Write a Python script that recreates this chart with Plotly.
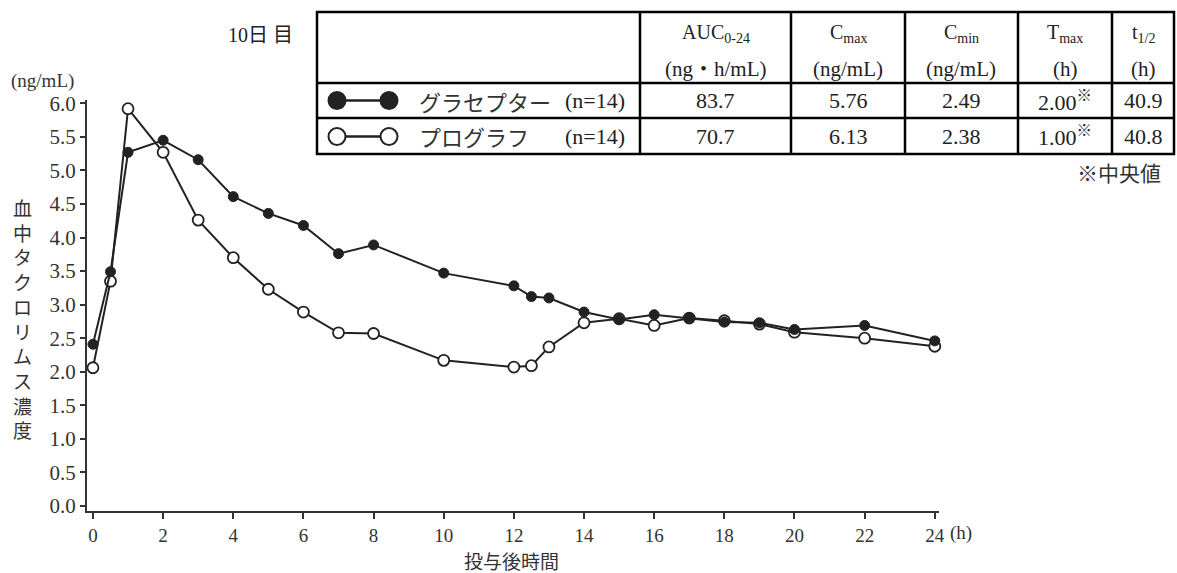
import plotly.graph_objects as go

# ---------------- data ----------------
hours = [0, 0.5, 1, 2, 3, 4, 5, 6, 7, 8, 10, 12, 12.5, 13, 14, 15, 16, 17, 18, 19, 20, 22, 24]
graceptor = [2.41, 3.49, 5.27, 5.45, 5.16, 4.61, 4.36, 4.18, 3.76, 3.89, 3.47, 3.28, 3.12, 3.10,
             2.89, 2.78, 2.85, 2.80, 2.74, 2.73, 2.63, 2.69, 2.46]
prograf = [2.06, 3.35, 5.92, 5.27, 4.26, 3.70, 3.23, 2.89, 2.58, 2.57, 2.17, 2.07, 2.09, 2.37,
           2.73, 2.79, 2.69, 2.80, 2.76, 2.71, 2.59, 2.50, 2.38]

x_ticks = list(range(0, 25, 2))
y_ticks = [i * 0.5 for i in range(13)]

table_header1 = ["AUC<sub>0-24</sub>", "C<sub>max</sub>", "C<sub>min</sub>", "T<sub>max</sub>", "t<sub>1/2</sub>"]
table_header2 = ["(ng・h/mL)", "(ng/mL)", "(ng/mL)", "(h)", "(h)"]
series_names = ["グラセプター", "プログラフ"]
series_n = ["(n=14)", "(n=14)"]
row_graceptor = ["83.7", "5.76", "2.49", "2.00<sup>※</sup>", "40.9"]
row_prograf = ["70.7", "6.13", "2.38", "1.00<sup>※</sup>", "40.8"]

# ---------------- layout geometry (pixels) ----------------
W, H = 1177, 573
L, R, T, B = 87, 939, 100, 511  # plot area in pixels

def px(x):
    return (x - L) / (R - L)

def py(y):
    return (B - y) / (B - T)

SERIF = "Liberation Serif, Noto Sans CJK JP, serif"
JP = "Noto Sans CJK JP, sans-serif"
INK = "#222"

fig = go.Figure()

fig.add_trace(go.Scatter(
    x=hours, y=prograf, mode="lines+markers", name="プログラフ",
    line=dict(color=INK, width=2),
    marker=dict(symbol="circle", size=11, color="white", line=dict(color=INK, width=1.8)),
    cliponaxis=False,
))
fig.add_trace(go.Scatter(
    x=hours, y=graceptor, mode="lines+markers", name="グラセプター",
    line=dict(color=INK, width=2),
    marker=dict(symbol="circle", size=10, color=INK, line=dict(color=INK, width=1)),
    cliponaxis=False,
))

fig.update_layout(
    width=W, height=H,
    margin=dict(l=L, r=W - R, t=T, b=H - B, pad=0),
    plot_bgcolor="white", paper_bgcolor="white",
    showlegend=False,
    font=dict(family=SERIF, color="#333"),
    xaxis=dict(range=[-0.17, 24.12], tickvals=x_ticks, ticktext=[str(v) for v in x_ticks],
               ticks="outside", ticklen=6, tickwidth=1.5, tickcolor="#333",
               showline=True, linewidth=2, linecolor="#333", showgrid=False, zeroline=False,
               tickfont=dict(family=SERIF, size=19, color="#333")),
    yaxis=dict(range=[-0.075, 6.05], tickvals=y_ticks, ticktext=[f"{v:.1f}" for v in y_ticks],
               ticks="outside", ticklen=5, tickwidth=1.5, tickcolor="#333",
               showline=True, linewidth=2, linecolor="#333", showgrid=False, zeroline=False,
               tickfont=dict(family=SERIF, size=21, color="#333")),
)

ann = []
def text(x, y, s, size=18, xanchor="center", family=SERIF, color="#222"):
    ann.append(dict(x=px(x), y=py(y), xref="paper", yref="paper", text=s, showarrow=False,
                    xanchor=xanchor, yanchor="middle", font=dict(family=family, size=size, color=color)))

# axis labels
text(9, 81, "(ng/mL)", size=19, xanchor="left", color="#333")
ann.append(dict(x=px(22), y=py(318), xref="paper", yref="paper",
                text="<br>".join(list("血中タクロリムス濃度")), showarrow=False,
                xanchor="center", yanchor="middle", align="center",
                font=dict(family=JP, size=19, color="#333")))
text(948, 533, "(h)", size=19, xanchor="left", color="#333")
text(511, 560, "投与後時間", size=19, family=JP, color="#333")

# title-like label
text(260, 35, "10日 目", size=20, color="#222")

# ---------------- table ----------------
col_edges = [317, 640, 791, 905, 1018, 1112, 1174]
row_edges = [12, 83, 118, 154]
shapes = []
shapes.append(dict(type="rect", xref="paper", yref="paper",
                   x0=px(col_edges[0]), x1=px(col_edges[-1]), y0=py(row_edges[0]), y1=py(row_edges[-1]),
                   line=dict(color="black", width=2.5)))
for ye in row_edges[1:-1]:
    shapes.append(dict(type="line", xref="paper", yref="paper",
                       x0=px(col_edges[0]), x1=px(col_edges[-1]), y0=py(ye), y1=py(ye),
                       line=dict(color="black", width=2.5)))
for xe in col_edges[1:-1]:
    shapes.append(dict(type="line", xref="paper", yref="paper",
                       x0=px(xe), x1=px(xe), y0=py(row_edges[0]), y1=py(row_edges[-1]),
                       line=dict(color="black", width=2.5)))

centers = [(col_edges[i] + col_edges[i + 1]) / 2 for i in range(1, len(col_edges) - 1)]
for c, h1, h2 in zip(centers, table_header1, table_header2):
    text(c, 34, h1, size=20)
    text(c, 69, h2, size=21)
row_y = [100.5, 136.5]
for ry, row in zip(row_y, [row_graceptor, row_prograf]):
    for c, v in zip(centers, row):
        text(c, ry, v, size=22)

# legend symbols inside table
for i, ry in enumerate(row_y):
    shapes.append(dict(type="line", xref="paper", yref="paper",
                       x0=px(340), x1=px(386), y0=py(ry), y1=py(ry),
                       line=dict(color="#222", width=2.5)))
    for cx in (337, 389):
        fill = "#222" if i == 0 else "white"
        shapes.append(dict(type="circle", xref="paper", yref="paper",
                           xsizemode="pixel", ysizemode="pixel",
                           xanchor=px(cx), yanchor=py(ry),
                           x0=-8.5, x1=8.5, y0=-8.5, y1=8.5,
                           fillcolor=fill, line=dict(color="#222", width=2)))
    text(417, ry, series_names[i], size=22, xanchor="left", family=JP, color="#333")
    text(627, ry, series_n[i], size=22, xanchor="right")

text(1163, 172, "※中央値", size=21, xanchor="right", family=JP, color="#333")

fig.update_layout(annotations=ann, shapes=shapes)
fig.write_html(
    "out.html",
    config={"displayModeBar": False},
    post_script="document.body.style.margin='0';document.body.style.overflow='hidden';"
                "document.documentElement.style.overflow='hidden';",
)
